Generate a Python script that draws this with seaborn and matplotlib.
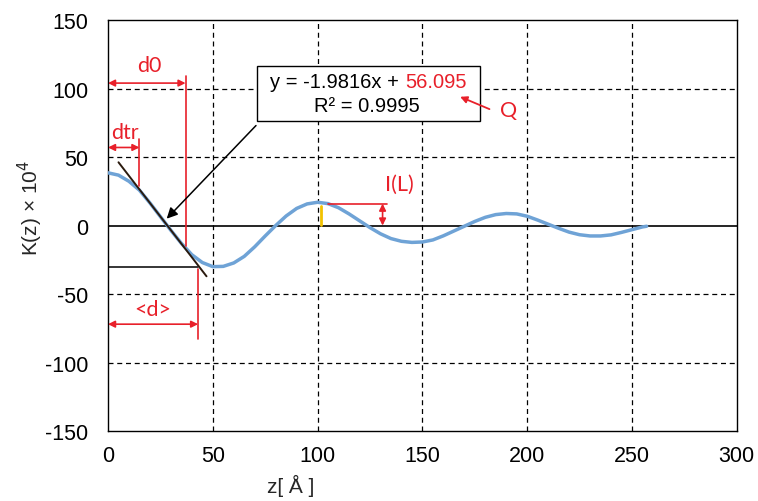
import numpy as np
import pandas as pd
import matplotlib
matplotlib.use("Agg")
import matplotlib.pyplot as plt
from matplotlib.patches import Rectangle
import seaborn as sns

# values
z_vals = [0, 5, 10, 15, 20, 25, 30, 35, 40, 45, 50, 55, 60, 65, 70, 75, 80, 85, 90, 95,
          100, 105, 110, 115, 120, 125, 130, 135, 140, 145, 150, 155, 160, 165, 170, 175,
          180, 185, 190, 195, 200, 205, 210, 215, 220, 225, 230, 235, 240, 245, 250, 255, 257]
k_vals = [38.5, 36.8, 32.3, 25.8, 16.5, 6.5, -3.5, -13, -21.3, -27, -30, -29.8, -27.3, -22.5,
          -15.5, -7.6, 0, 7, 12.5, 15.8, 17, 16, 13, 8.5, 3.5, -1.5, -6, -9.5, -11.5,
          -12.3, -12, -10.5, -7.5, -4, -0.5, 3, 6, 8, 8.8, 8.5, 6.8, 4, 1, -2, -4.8,
          -6.7, -7.6, -7.6, -6.8, -5, -3, -1, -0.5]

fit_slope = -1.9816
fit_intercept = 56.095
fit_r2 = 0.9995
fit_range = [5, 47]

d_tr = 15
d_0 = 37
d_mean = 43
k_min = -30.5
peak_z = 101.5
peak_k = 16

x_ticks = [0, 50, 100, 150, 200, 250, 300]
y_ticks = [-150, -100, -50, 0, 50, 100, 150]

RED = "#e8202a"
BLUE = "#6fa3d6"
LABEL_FONT = ["Lato", "DejaVu Sans"]

sns.set_style("white")
plt.rcParams["font.family"] = ["Liberation Sans", "DejaVu Sans"]
plt.rcParams["axes.unicode_minus"] = False

df = pd.DataFrame({"z": z_vals, "K": k_vals})

fig = plt.figure(figsize=(7.58, 5.02), dpi=100)
ax = fig.add_axes([0.1425, 0.1394, 0.8295, 0.8186])

# grid + zero line
for xv in x_ticks[1:-1]:
    ax.axvline(xv, color="black", lw=0.9, ls=(0, (4, 3)), zorder=0)
for yv in y_ticks[1:-1]:
    if yv != 0:
        ax.axhline(yv, color="black", lw=0.9, ls=(0, (4, 3)), zorder=0)
ax.axhline(0, color="black", lw=1.2, zorder=1)

sns.lineplot(data=df, x="z", y="K", color=BLUE, lw=2.5, ax=ax, zorder=3)
for ln in ax.get_lines():
    ln.set_solid_joinstyle("round")
    ln.set_solid_capstyle("round")

# trendline
fx = np.array(fit_range, dtype=float)
ax.plot(fx, fit_slope * fx + fit_intercept, color="#2a1a0e", lw=1.4, zorder=4)

# <d> baseline at the minimum
ax.plot([0, d_mean], [k_min, k_min], color="black", lw=1.1, zorder=2)

# red markers
arrow_kw = dict(arrowstyle="<|-|>", color=RED, lw=1.2, mutation_scale=10, shrinkA=0, shrinkB=0)
ax.plot([d_0, d_0], [109, -15], color=RED, lw=1.2, zorder=5)
ax.annotate("", xy=(0, 104), xytext=(d_0, 104), arrowprops=arrow_kw)
ax.text(d_0 / 2 + 1, 110, "d0", color=RED, fontsize=15.5, family=LABEL_FONT,
        ha="center", va="bottom")

ax.plot([d_tr, d_tr], [63, 29], color=RED, lw=1.2, zorder=5)
ax.annotate("", xy=(0, 57), xytext=(d_tr, 57), arrowprops=arrow_kw)
ax.text(d_tr / 2 + 0.5, 61, "dtr", color=RED, fontsize=15.5, family=LABEL_FONT,
        ha="center", va="bottom")

ax.plot([d_mean, d_mean], [-32, -83], color=RED, lw=1.2, zorder=5)
ax.annotate("", xy=(0, -72), xytext=(d_mean, -72), arrowprops=arrow_kw)
ax.text(d_mean / 2, -68, "<d>", color=RED, fontsize=15.5, family=LABEL_FONT,
        ha="center", va="bottom")

# I(L)
ax.plot([peak_z, peak_z], [peak_k - 1.5, 0.5], color="#f2c200", lw=2, zorder=5)
ax.plot([peak_z + 3.5, 133], [peak_k, peak_k], color=RED, lw=1.2, zorder=5)
ax.annotate("", xy=(131, 0), xytext=(131, peak_k), arrowprops=arrow_kw)
ax.text(139, 23, "I(L)", color=RED, fontsize=15.5, family=LABEL_FONT,
        ha="center", va="bottom")

# equation box
ax.add_patch(Rectangle((71, 76.6), 106.4, 40.2, facecolor="white", edgecolor="black",
                       lw=1.0, zorder=6))
ax.text(141.6, 105, "y = %.4fx + " % fit_slope, ha="right", va="center", fontsize=14.5,
        color="black", zorder=7)
ax.text(141.6, 105, "%.3f" % fit_intercept, ha="left", va="center", fontsize=14.5,
        color=RED, zorder=7)
ax.text(123.7, 87.6, "R² = %.4f" % fit_r2, ha="center", va="center", fontsize=14.5,
        color="black", zorder=7)
ax.annotate("", xy=(28, 5), xytext=(70.6, 73),
            arrowprops=dict(arrowstyle="-|>", color="black", lw=1.1, mutation_scale=16,
                            shrinkA=0, shrinkB=0), zorder=7)

# Q
ax.annotate("", xy=(168, 94), xytext=(182, 85),
            arrowprops=dict(arrowstyle="-|>", color=RED, lw=1.3, mutation_scale=10,
                            shrinkA=0, shrinkB=0), zorder=7)
ax.text(191, 84, "Q", color=RED, fontsize=15.5, family=LABEL_FONT,
        ha="center", va="center")

ax.set_xlim(0, 300)
ax.set_ylim(-150, 150)
ax.set_xticks(x_ticks)
ax.set_yticks(y_ticks)
ax.tick_params(axis="both", length=0, labelsize=15.5, colors="black")
ax.tick_params(axis="y", pad=14)
ax.tick_params(axis="x", pad=10)
for s in ax.spines.values():
    s.set_color("black")
    s.set_linewidth(1.0)

ax.set_xlabel("z[ Å ]", fontsize=15)
ax.xaxis.set_label_coords(0.29, -0.105)
ax.set_ylabel("K(z) × 10$^4$", fontsize=15)
ax.yaxis.set_label_coords(-0.1, 0.545)

fig.savefig("out.png", dpi=100)
